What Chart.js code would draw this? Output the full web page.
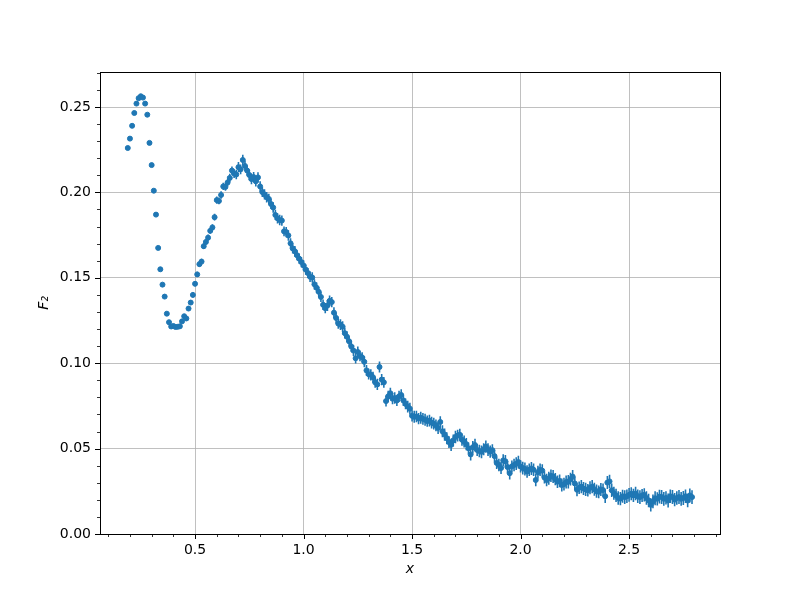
<!DOCTYPE html>
<html lang="en">
<head>
  <meta charset="UTF-8">
  <title>F2 against x</title>
  <script src="https://cdn.jsdelivr.net/npm/chart.js"></script>
  <style>
    body { margin: 0; background: #fff; }
    #wrap { width: 800px; height: 600px; }
  </style>
</head>
<body>
  <div id="wrap"><canvas id="chart" width="800" height="600"></canvas></div>
  <script>
    // x positions of the measured points
    const xValues = [
      0.19, 0.20, 0.21, 0.22, 0.23, 0.24, 0.25, 0.26, 0.27, 0.28,
      0.29, 0.30, 0.31, 0.32, 0.33, 0.34, 0.35, 0.36, 0.37, 0.38,
      0.39, 0.40, 0.41, 0.42, 0.43, 0.44, 0.45, 0.46, 0.47, 0.48,
      0.49, 0.50, 0.51, 0.52, 0.53, 0.54, 0.55, 0.56, 0.57, 0.58,
      0.59, 0.60, 0.61, 0.62, 0.63, 0.64, 0.65, 0.66, 0.67, 0.68,
      0.69, 0.70, 0.71, 0.72, 0.73, 0.74, 0.75, 0.76, 0.77, 0.78,
      0.79, 0.80, 0.81, 0.82, 0.83, 0.84, 0.85, 0.86, 0.87, 0.88,
      0.89, 0.90, 0.91, 0.92, 0.93, 0.94, 0.95, 0.96, 0.97, 0.98,
      0.99, 1.00, 1.01, 1.02, 1.03, 1.04, 1.05, 1.06, 1.07, 1.08,
      1.09, 1.10, 1.11, 1.12, 1.13, 1.14, 1.15, 1.16, 1.17, 1.18,
      1.19, 1.20, 1.21, 1.22, 1.23, 1.24, 1.25, 1.26, 1.27, 1.28,
      1.29, 1.30, 1.31, 1.32, 1.33, 1.34, 1.35, 1.36, 1.37, 1.38,
      1.39, 1.40, 1.41, 1.42, 1.43, 1.44, 1.45, 1.46, 1.47, 1.48,
      1.49, 1.50, 1.51, 1.52, 1.53, 1.54, 1.55, 1.56, 1.57, 1.58,
      1.59, 1.60, 1.61, 1.62, 1.63, 1.64, 1.65, 1.66, 1.67, 1.68,
      1.69, 1.70, 1.71, 1.72, 1.73, 1.74, 1.75, 1.76, 1.77, 1.78,
      1.79, 1.80, 1.81, 1.82, 1.83, 1.84, 1.85, 1.86, 1.87, 1.88,
      1.89, 1.90, 1.91, 1.92, 1.93, 1.94, 1.95, 1.96, 1.97, 1.98,
      1.99, 2.00, 2.01, 2.02, 2.03, 2.04, 2.05, 2.06, 2.07, 2.08,
      2.09, 2.10, 2.11, 2.12, 2.13, 2.14, 2.15, 2.16, 2.17, 2.18,
      2.19, 2.20, 2.21, 2.22, 2.23, 2.24, 2.25, 2.26, 2.27, 2.28,
      2.29, 2.30, 2.31, 2.32, 2.33, 2.34, 2.35, 2.36, 2.37, 2.38,
      2.39, 2.40, 2.41, 2.42, 2.43, 2.44, 2.45, 2.46, 2.47, 2.48,
      2.49, 2.50, 2.51, 2.52, 2.53, 2.54, 2.55, 2.56, 2.57, 2.58,
      2.59, 2.60, 2.61, 2.62, 2.63, 2.64, 2.65, 2.66, 2.67, 2.68,
      2.69, 2.70, 2.71, 2.72, 2.73, 2.74, 2.75, 2.76, 2.77, 2.78,
      2.79
    ];

    // F2 values
    const f2Values = [
      0.2260, 0.2315, 0.2390, 0.2465, 0.2520, 0.2552, 0.2563, 0.2555, 0.2520, 0.2455,
      0.2290, 0.2160, 0.2010, 0.1870, 0.1675, 0.1550, 0.1460, 0.1390, 0.1290, 0.1240,
      0.1215, 0.1218, 0.1212, 0.1213, 0.1216, 0.1245, 0.1275, 0.1262, 0.1320, 0.1355,
      0.1400, 0.1465, 0.1520, 0.1580, 0.1595, 0.1685, 0.1710, 0.1735, 0.1775, 0.1795,
      0.1855, 0.1955, 0.1950, 0.1985, 0.2035, 0.2032, 0.2058, 0.2085, 0.2128, 0.2110,
      0.2105, 0.2148, 0.2135, 0.2190, 0.2155, 0.2128, 0.2102, 0.2078, 0.2090, 0.2065,
      0.2088, 0.2035, 0.2002, 0.1988, 0.1972, 0.1962, 0.1932, 0.1912, 0.1868, 0.1848,
      0.1838, 0.1835, 0.1772, 0.1768, 0.1748, 0.1702, 0.1672, 0.1655, 0.1632, 0.1612,
      0.1592, 0.1572, 0.1548, 0.1528, 0.1506, 0.1502, 0.1462, 0.1442, 0.1418, 0.1388,
      0.1342, 0.1322, 0.1338, 0.1365, 0.1358, 0.1296, 0.1265, 0.1232, 0.1226, 0.1214,
      0.1176, 0.1155, 0.1128, 0.1098, 0.1074, 0.1029, 0.1066, 0.1042, 0.1034, 0.1008,
      0.0958, 0.0936, 0.0932, 0.0918, 0.0888, 0.0876, 0.0978, 0.0904, 0.0888, 0.0778,
      0.0806, 0.0824, 0.0792, 0.0796, 0.0782, 0.0806, 0.0814, 0.0782, 0.0762, 0.0746,
      0.0734, 0.0692, 0.0686, 0.0688, 0.0676, 0.0681, 0.0674, 0.0669, 0.0661, 0.0664,
      0.0652, 0.0646, 0.0636, 0.0621, 0.0656, 0.0601, 0.0582, 0.0561, 0.0538, 0.0522,
      0.0548, 0.0568, 0.0576, 0.0581, 0.0552, 0.0541, 0.0526, 0.0502, 0.0466, 0.0508,
      0.0521, 0.0492, 0.0486, 0.0481, 0.0496, 0.0511, 0.0494, 0.0482, 0.0491, 0.0456,
      0.0416, 0.0404, 0.0386, 0.0431, 0.0426, 0.0392, 0.0356, 0.0396, 0.0404, 0.0412,
      0.0421, 0.0396, 0.0386, 0.0381, 0.0366, 0.0376, 0.0384, 0.0376, 0.0316, 0.0362,
      0.0376, 0.0371, 0.0331, 0.0316, 0.0326, 0.0341, 0.0336, 0.0321, 0.0306, 0.0311,
      0.0287, 0.0292, 0.0304, 0.0306, 0.0321, 0.0336, 0.0296, 0.0259, 0.0271, 0.0277,
      0.0266, 0.0261, 0.0256, 0.0271, 0.0277, 0.0262, 0.0251, 0.0247, 0.0261, 0.0257,
      0.0221, 0.0301, 0.0308, 0.0256, 0.0239, 0.0226, 0.0211, 0.0207, 0.0221, 0.0216,
      0.0221, 0.0229, 0.0236, 0.0226, 0.0237, 0.0221, 0.0216, 0.0226, 0.0229, 0.0211,
      0.0196, 0.0171, 0.0191, 0.0209, 0.0206, 0.0219, 0.0216, 0.0206, 0.0211, 0.0196,
      0.0221, 0.0216, 0.0201, 0.0211, 0.0216, 0.0206, 0.0211, 0.0221, 0.0196, 0.0226,
      0.0216
    ];

    // half length of each error bar
    const f2Errors = [
      0.0009, 0.0009, 0.0010, 0.0009, 0.0010, 0.0010, 0.0010, 0.0010, 0.0011, 0.0010,
      0.0010, 0.0011, 0.0010, 0.0011, 0.0010, 0.0011, 0.0011, 0.0010, 0.0011, 0.0011,
      0.0011, 0.0012, 0.0011, 0.0012, 0.0012, 0.0012, 0.0013, 0.0012, 0.0013, 0.0013,
      0.0015, 0.0015, 0.0016, 0.0015, 0.0016, 0.0017, 0.0016, 0.0018, 0.0017, 0.0018,
      0.0020, 0.0021, 0.0020, 0.0022, 0.0021, 0.0023, 0.0022, 0.0024, 0.0023, 0.0025,
      0.0028, 0.0030, 0.0029, 0.0031, 0.0030, 0.0029, 0.0031, 0.0030, 0.0029, 0.0030,
      0.0030, 0.0031, 0.0029, 0.0030, 0.0031, 0.0030, 0.0029, 0.0031, 0.0030, 0.0030,
      0.0031, 0.0030, 0.0029, 0.0030, 0.0031, 0.0030, 0.0030, 0.0031, 0.0029, 0.0030,
      0.0030, 0.0031, 0.0030, 0.0029, 0.0031, 0.0030, 0.0030, 0.0031, 0.0030, 0.0029,
      0.0031, 0.0030, 0.0032, 0.0031, 0.0030, 0.0031, 0.0032, 0.0030, 0.0031, 0.0032,
      0.0031, 0.0032, 0.0030, 0.0031, 0.0032, 0.0031, 0.0032, 0.0031, 0.0030, 0.0032,
      0.0032, 0.0031, 0.0033, 0.0032, 0.0031, 0.0033, 0.0032, 0.0033, 0.0031, 0.0032,
      0.0033, 0.0032, 0.0033, 0.0034, 0.0032, 0.0033, 0.0034, 0.0033, 0.0032, 0.0034,
      0.0034, 0.0033, 0.0035, 0.0034, 0.0033, 0.0035, 0.0034, 0.0035, 0.0033, 0.0034,
      0.0035, 0.0034, 0.0035, 0.0036, 0.0034, 0.0035, 0.0036, 0.0035, 0.0034, 0.0036,
      0.0035, 0.0036, 0.0034, 0.0035, 0.0036, 0.0035, 0.0036, 0.0034, 0.0035, 0.0036,
      0.0036, 0.0035, 0.0036, 0.0037, 0.0035, 0.0036, 0.0037, 0.0036, 0.0035, 0.0037,
      0.0036, 0.0037, 0.0035, 0.0036, 0.0037, 0.0036, 0.0037, 0.0035, 0.0036, 0.0037,
      0.0037, 0.0036, 0.0037, 0.0038, 0.0036, 0.0037, 0.0038, 0.0037, 0.0036, 0.0038,
      0.0037, 0.0038, 0.0036, 0.0037, 0.0038, 0.0037, 0.0038, 0.0036, 0.0037, 0.0038,
      0.0038, 0.0037, 0.0038, 0.0039, 0.0037, 0.0038, 0.0039, 0.0038, 0.0037, 0.0039,
      0.0038, 0.0039, 0.0037, 0.0038, 0.0039, 0.0038, 0.0039, 0.0037, 0.0038, 0.0039,
      0.0039, 0.0038, 0.0039, 0.0040, 0.0038, 0.0039, 0.0040, 0.0039, 0.0038, 0.0040,
      0.0039, 0.0040, 0.0038, 0.0039, 0.0040, 0.0039, 0.0040, 0.0038, 0.0039, 0.0040,
      0.0040, 0.0039, 0.0040, 0.0041, 0.0039, 0.0040, 0.0041, 0.0040, 0.0039, 0.0041,
      0.0040, 0.0041, 0.0039, 0.0040, 0.0041, 0.0040, 0.0041, 0.0039, 0.0040, 0.0041,
      0.0040
    ];

    const xTicks = [0.5, 1.0, 1.5, 2.0, 2.5];
    const yTicks = [0.00, 0.05, 0.10, 0.15, 0.20, 0.25];

    const blue = '#1f77b4';
    const xMinorStep = 0.1;
    const yMinorStep = 0.01;

    Chart.defaults.font.family = 'DejaVu Sans';
    Chart.defaults.font.size = 14;
    Chart.defaults.color = '#000';

    // vertical error bars, drawn through the scales
    const errorBars = {
      id: 'errorBars',
      beforeDatasetsDraw(chart) {
        const { ctx, scales: { x, y } } = chart;
        ctx.save();
        ctx.strokeStyle = blue;
        ctx.lineWidth = 1.6;
        ctx.beginPath();
        xValues.forEach((xv, i) => {
          const px = x.getPixelForValue(xv);
          ctx.moveTo(px, y.getPixelForValue(f2Values[i] - f2Errors[i]));
          ctx.lineTo(px, y.getPixelForValue(f2Values[i] + f2Errors[i]));
        });
        ctx.stroke();
        ctx.restore();
      }
    };

    // box around the axes plus major/minor tick marks (matplotlib look)
    const axesFrame = {
      id: 'axesFrame',
      afterDraw(chart) {
        const { ctx, chartArea: a, scales: { x, y } } = chart;
        ctx.save();
        ctx.strokeStyle = '#000';
        ctx.lineWidth = 1;
        ctx.strokeRect(a.left + 0.5, a.top + 0.5, a.right - a.left, a.bottom - a.top);

        const tick = (x1, y1, x2, y2, w) => {
          ctx.lineWidth = w;
          ctx.beginPath();
          ctx.moveTo(x1, y1);
          ctx.lineTo(x2, y2);
          ctx.stroke();
        };
        for (let v = Math.ceil(x.min / xMinorStep) * xMinorStep; v <= x.max; v += xMinorStep) {
          const px = Math.round(x.getPixelForValue(v)) + 0.5;
          tick(px, a.bottom, px, a.bottom + 3, 0.8);
        }
        for (let v = 0; v <= y.max; v += yMinorStep) {
          const py = Math.round(y.getPixelForValue(v)) + 0.5;
          tick(a.left, py, a.left - 3, py, 0.8);
        }
        xTicks.forEach(v => {
          const px = Math.round(x.getPixelForValue(v)) + 0.5;
          tick(px, a.bottom, px, a.bottom + 5, 1);
        });
        yTicks.forEach(v => {
          const py = Math.round(y.getPixelForValue(v)) + 0.5;
          tick(a.left, py, a.left - 5, py, 1);
        });
        ctx.restore();
      }
    };

    new Chart(document.getElementById('chart'), {
      type: 'scatter',
      data: {
        datasets: [{
          data: xValues.map((xv, i) => ({ x: xv, y: f2Values[i] })),
          backgroundColor: blue,
          borderColor: blue,
          borderWidth: 1,
          pointRadius: 2.5,
          pointHoverRadius: 2.5
        }]
      },
      options: {
        responsive: false,
        animation: false,
        layout: { padding: { left: 0, right: 80, top: 72, bottom: 0 } },
        plugins: { legend: { display: false }, tooltip: { enabled: false } },
        scales: {
          x: {
            type: 'linear',
            bounds: 'data',
            min: 0.062,
            max: 2.919,
            afterBuildTicks: s => { s.ticks = xTicks.map(v => ({ value: v })); },
            afterFit: s => { s.height = 66; },
            ticks: { padding: 8, callback: v => v.toFixed(1) },
            grid: { color: '#b0b0b0', lineWidth: 0.8, drawTicks: false },
            border: { display: false },
            title: {
              display: true,
              text: 'x',
              font: { style: 'italic', size: 14 },
              padding: { top: 0, bottom: 22 }
            }
          },
          y: {
            type: 'linear',
            bounds: 'data',
            min: 0,
            max: 0.2705,
            afterBuildTicks: s => { s.ticks = yTicks.map(v => ({ value: v })); },
            afterFit: s => { s.width = 100; },
            ticks: { padding: 9, callback: v => v.toFixed(2) },
            grid: { color: '#b0b0b0', lineWidth: 0.8, drawTicks: false },
            border: { display: false },
            title: {
              display: true,
              text: 'F₂',
              font: { style: 'italic', size: 14 },
              padding: { top: 36, bottom: 0 }
            }
          }
        }
      },
      plugins: [errorBars, axesFrame]
    });
  </script>
</body>
</html>
